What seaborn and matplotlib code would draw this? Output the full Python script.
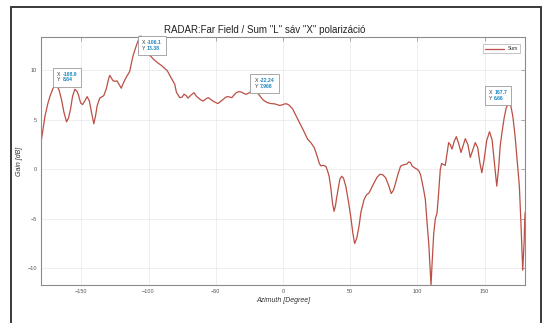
import pandas as pd
import matplotlib
matplotlib.use("Agg")
import matplotlib.pyplot as plt
import seaborn as sns
from matplotlib.offsetbox import TextArea, HPacker, AnnotationBbox
from matplotlib.lines import Line2D

# Far field gain
azimuth = [-180, -178, -177, -175, -173.3, -171, -168.9, -166.5, -164.5, -163, -161, -159.5, -158,
           -156.5, -154.8, -153.3, -152.3, -150.5, -149, -147.5, -145.7, -144, -142.5, -140.7,
           -139.3, -138.3, -136.3, -133.3, -131.3, -130, -128.9, -127.5, -126.4, -125, -123.5,
           -122, -120.3, -118.5, -116, -114, -112.5, -111.3, -109.1, -107.5, -106.1, -104, -102,
           -100.2, -97.5, -95.3, -92.5, -90.4, -88, -86.2, -83, -80.5, -79.3, -76.8, -75, -73.6,
           -72, -70.6, -68.5, -66.2, -64.5, -63.2, -61.5, -59.5, -57.5, -55.8, -54, -52.1, -50,
           -48.4, -46.5, -44.7, -42.5, -41, -39.5, -38, -36.5, -34.8, -33, -31.1, -29.5, -27.4,
           -25, -22.24, -20.5, -18.7, -16.8, -15, -13, -11.3, -9, -6.4, -4.5, -2.7, -1, 1, 2.5,
           4.5, 7.2, 9, 10.9, 12.7, 14.6, 16.5, 18.3, 20.7, 23.2, 24.5, 25.7, 27, 28.1, 30, 31.9,
           33, 34.3, 35.5, 36.8, 38, 39, 40, 41, 42.3, 43.7, 45, 46.7, 48.5, 50.4, 52, 53.3,
           54.8, 56.5, 58, 60.2, 62, 63.9, 65.8, 67.6, 70, 72.1, 74.2, 76.3, 78.5, 80.5, 82.2,
           83.7, 85.5, 87.4, 89.5, 91.1, 92.3, 93.5, 94.8, 96, 97.3, 98.5, 99.8, 101, 102.2,
           103.5, 104.8, 105.9, 107.1, 108.4, 109.3, 110.1, 110.9, 112.1, 113.3, 114.6, 115.8,
           117, 118, 119, 120.7, 122, 123.2, 124.4, 125.7, 127.3, 128.9, 130.7, 132.4, 134,
           135.6, 137.5, 139.3, 141, 143, 144.8, 146.5, 147.9, 149.5, 151.5, 153.6, 155.5,
           157.2, 159, 160.5, 161.5, 162.7, 164.5, 166, 167.7, 169.5, 171, 172.6, 174, 175.8,
           177, 178.3, 179.3, 180]
gain = [2.7, 4.5, 5.4, 6.6, 7.4, 8.2, 8.64, 8.0, 6.9, 5.8, 4.8, 5.2, 6.1,
        7.4, 8.1, 7.9, 7.6, 6.7, 6.55, 6.9, 7.35, 6.9, 5.8, 4.6,
        5.5, 6.4, 7.2, 7.45, 8.2, 9.0, 9.5, 9.2, 8.95, 8.9, 8.95,
        8.6, 8.2, 8.8, 9.45, 9.9, 10.9, 11.6, 12.5, 13.1, 13.38, 12.7, 12.1,
        11.7, 11.3, 11.0, 10.7, 10.5, 10.2, 10.0, 9.2, 8.6, 7.8, 7.25, 7.3, 7.6,
        7.45, 7.2, 7.5, 7.75, 7.4, 7.25, 7.05, 6.9, 7.1, 7.25, 7.1, 6.9, 6.75,
        6.65, 6.85, 7.05, 7.3, 7.35, 7.3, 7.25, 7.5, 7.75, 7.85, 7.82, 7.7, 7.58,
        7.75, 7.968, 7.9, 7.7, 7.35, 7.05, 6.85, 6.73, 6.65, 6.62, 6.55, 6.46, 6.5, 6.6, 6.63,
        6.5, 6.1, 5.6, 5.1, 4.6, 4.1, 3.55, 3.05, 2.7, 2.2, 1.7, 1.2, 0.6, 0.35, 0.4, 0.3,
        -0.1, -0.7, -1.8, -3.4, -4.25, -3.7, -2.8, -2.0, -1.0, -0.7, -0.9, -1.7, -3.1, -4.8, -6.5, -7.5,
        -7.0, -5.8, -4.3, -3.1, -2.6, -2.4, -1.9, -1.4, -0.8, -0.5, -0.55, -0.85, -1.6, -2.45, -2.1,
        -1.4, -0.5, 0.3, 0.45, 0.5, 0.55, 0.75, 0.7, 0.35, 0.2, 0.1, 0.0, -0.15, -0.5,
        -1.3, -2.2, -3.1, -5.3, -7.5, -9.8, -11.7, -9.5, -6.5, -5.0, -4.4, -2.3,
        0.0, 0.6, 0.5, 0.4, 1.6, 2.7, 2.5, 2.05, 2.8, 3.3, 2.6, 1.7, 2.4,
        3.1, 2.5, 1.2, 1.9, 2.7, 2.2, 0.6, -0.35, 0.9, 2.9, 3.8, 3.0,
        0.7, -1.7, 0.3, 2.3, 3.55, 5.2, 6.2, 6.66, 6.4, 5.3, 3.4, 1.2, -1.7,
        -5.5, -10.2, -7.5, -4.4]

# data tips
tip_x = [-168.9, -106.1, -22.24, 167.7]
tip_y = [8.64, 13.38, 7.968, 6.66]
tip_xtxt = ["-168.9", "-106.1", "-22.24", "167.7"]
tip_ytxt = ["8.64", "13.38", "7.968", "6.66"]

x_ticks = [-150, -100, -50, 0, 50, 100, 150]
y_ticks = [-10, -5, 0, 5, 10]

df = pd.DataFrame({"Azimuth": azimuth, "Gain": gain})

sns.set_style("whitegrid", {"grid.color": "#ebebeb", "axes.edgecolor": "#8c8c8c"})
plt.rcParams["font.family"] = ["Liberation Sans", "DejaVu Sans"]

fig = plt.figure(figsize=(5.44, 3.23), dpi=100)
ax = fig.add_axes([41 / 544, 1 - 285 / 323, 484 / 544, 248 / 323])

sns.lineplot(data=df, x="Azimuth", y="Gain", color="#bb4f44", lw=0.9, label="Sum",
             estimator=None, sort=False, ax=ax)

ax.set_xlim(-180, 180)
ax.set_ylim(min(gain), max(gain))
ax.set_xticks(x_ticks)
ax.set_yticks(y_ticks)
ax.tick_params(direction="in", top=True, right=True, length=3, width=0.5,
               color="#8c8c8c", labelsize=4, labelcolor="#555555", pad=3)
for s in ax.spines.values():
    s.set_linewidth(0.8)
ax.grid(True, lw=0.6)

ax.set_xlabel("Azimuth [Degree]", fontsize=5, style="italic", color="#333333", labelpad=2)
ax.set_ylabel("Gain [dB]", fontsize=5, style="italic", color="#333333", labelpad=3)
fig.text(265 / 544, 1 - 30 / 323, 'RADAR:Far Field / Sum "L" sáv "X" polarizáció',
         ha="center", va="center", fontsize=7, color="#222222")

leg = ax.legend(loc="upper right", fontsize=3.5, frameon=True, fancybox=False,
                edgecolor="#999999", handlelength=4, borderpad=0.4,
                bbox_to_anchor=(0.995, 0.98))
leg.get_frame().set_linewidth(0.5)

# data tip markers and boxes
ax.plot(tip_x, tip_y, "s", color="black", ms=1.8, clip_on=False, zorder=5)
tip_align = [(0, 0), (0, 1), (0, 0), (1, 0)]
tip_offset = [(1, 1), (1, -2), (1, 1), (-1, 2)]
for i in range(len(tip_x)):
    left = TextArea("X\nY", textprops=dict(color="#333333", fontsize=3.7))
    right = TextArea(tip_xtxt[i] + "\n" + tip_ytxt[i],
                     textprops=dict(color="#1a86c4", fontsize=3.7, fontweight="bold"))
    box = HPacker(children=[left, right], align="top", pad=0, sep=1.2)
    ab = AnnotationBbox(box, (tip_x[i], tip_y[i]), xybox=tip_offset[i],
                        xycoords="data", boxcoords="offset points",
                        box_alignment=tip_align[i], frameon=True, pad=0.3,
                        bboxprops=dict(edgecolor="#9a9a9a", facecolor="white", lw=0.6))
    ab.set_zorder(6)
    ax.add_artist(ab)

# screenshot frame around the figure
frame_kw = dict(color="#3a3a3a", lw=1.4, transform=fig.transFigure)
fig.add_artist(Line2D([11 / 544, 11 / 544], [0, 1 - 7 / 323], **frame_kw))
fig.add_artist(Line2D([11 / 544, 541 / 544], [1 - 7 / 323, 1 - 7 / 323], **frame_kw))
fig.add_artist(Line2D([541 / 544, 541 / 544], [0, 1 - 7 / 323], **frame_kw))

fig.savefig("out.png", dpi=100)
plt.close(fig)
